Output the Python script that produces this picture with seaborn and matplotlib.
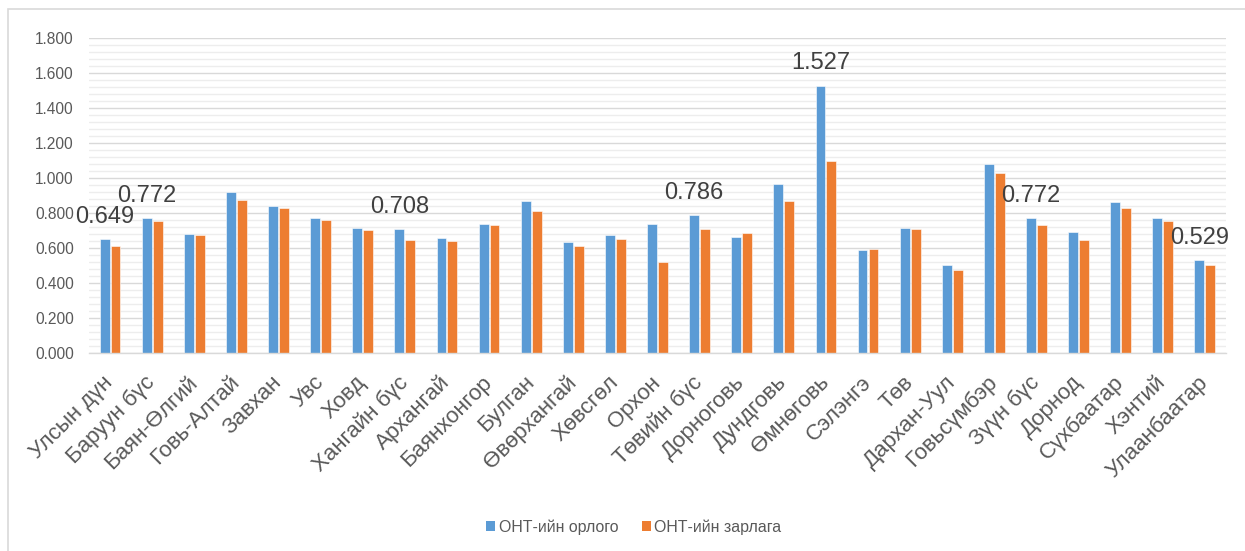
import matplotlib
matplotlib.use("Agg")
import matplotlib.pyplot as plt
from matplotlib.patches import Rectangle
from matplotlib.ticker import MultipleLocator, FuncFormatter
import pandas as pd
import seaborn as sns

# Regions / aimags
categories = [
    "Улсын дүн", "Баруун бүс", "Баян-Өлгий", "Говь-Алтай", "Завхан", "Увс", "Ховд",
    "Хангайн бүс", "Архангай", "Баянхонгор", "Булган", "Өвөрхангай", "Хөвсгөл", "Орхон",
    "Төвийн бүс", "Дорноговь", "Дундговь", "Өмнөговь", "Сэлэнгэ", "Төв", "Дархан-Уул",
    "Говьсүмбэр", "Зүүн бүс", "Дорнод", "Сүхбаатар", "Хэнтий", "Улаанбаатар",
]

series_names = ["ОНТ-ийн орлого", "ОНТ-ийн зарлага"]

income = [
    0.649, 0.772, 0.680, 0.922, 0.842, 0.768, 0.712,
    0.708, 0.659, 0.737, 0.870, 0.632, 0.672, 0.739,
    0.786, 0.665, 0.966, 1.527, 0.587, 0.716, 0.501,
    1.078, 0.772, 0.690, 0.863, 0.773, 0.529,
]
expense = [
    0.610, 0.754, 0.672, 0.874, 0.825, 0.758, 0.705,
    0.648, 0.640, 0.728, 0.810, 0.611, 0.653, 0.518,
    0.710, 0.686, 0.865, 1.097, 0.596, 0.707, 0.474,
    1.025, 0.731, 0.644, 0.829, 0.752, 0.505,
]

# Income values shown as labels above the bars
labelled = ["Улсын дүн", "Баруун бүс", "Хангайн бүс", "Төвийн бүс",
            "Өмнөговь", "Зүүн бүс", "Улаанбаатар"]

colors = ["#5B9BD5", "#ED7D31"]

sns.set_theme(style="white")
plt.rcParams["font.family"] = ["Liberation Sans", "DejaVu Sans"]

df = pd.DataFrame({
    "region": categories * 2,
    "value": income + expense,
    "series": [series_names[0]] * len(categories) + [series_names[1]] * len(categories),
})

fig = plt.figure(figsize=(12.45, 5.51), dpi=100)
ax = fig.add_axes([0.0715, 0.3593, 0.9132, 0.5723])

sns.barplot(data=df, x="region", y="value", hue="series", order=categories,
            hue_order=series_names, palette=colors, width=0.52, gap=0.1,
            edgecolor="white", linewidth=0.4, saturation=1, ax=ax, legend=True)

ax.set_ylim(0, 1.8)
ax.set_xlim(-0.5, len(categories) - 0.5)
ax.yaxis.set_major_locator(MultipleLocator(0.2))
ax.yaxis.set_minor_locator(MultipleLocator(0.04))
ax.yaxis.set_major_formatter(FuncFormatter(lambda v, _: f"{v:.3f}"))
ax.grid(axis="y", which="minor", color="#EDEDED", linewidth=1.0)
ax.grid(axis="y", which="major", color="#D9D9D9", linewidth=1.0)
ax.set_axisbelow(True)
for side in ["left", "right", "top"]:
    ax.spines[side].set_visible(False)
ax.spines["bottom"].set_color("#D9D9D9")
ax.spines["bottom"].set_linewidth(1.0)
ax.set_xlabel("")
ax.set_ylabel("")

ax.tick_params(axis="y", which="both", length=0, pad=11, labelsize=11.2, labelcolor="#595959")
ax.tick_params(axis="x", length=0, pad=19, labelsize=16, labelcolor="#595959")
for lbl in ax.get_xticklabels():
    lbl.set_rotation(45)
    lbl.set_ha("right")
    lbl.set_va("center")
    lbl.set_rotation_mode("anchor")

# Value labels above selected income bars
texts = [f"{v:.3f}" if c in labelled else "" for c, v in zip(categories, income)]
ax.bar_label(ax.containers[0], labels=texts, padding=8, fontsize=17, color="#404040")

# Legend below the chart
ax.get_legend().remove()
handles = [Rectangle((0, 0), 1, 1, facecolor=c, edgecolor="none") for c in colors]
fig.legend(handles, series_names, loc="center", bbox_to_anchor=(0.509, 0.0436),
           ncol=2, frameon=False, fontsize=11.4, labelcolor="#595959",
           handlelength=0.6, handleheight=0.6, handletextpad=0.2, columnspacing=1.5)

# Chart area border
fig.patches.append(Rectangle((7.5 / 1245, -0.05), 1.1, 1.05 - 9 / 551,
                             transform=fig.transFigure, fill=False,
                             edgecolor="#D9D9D9", linewidth=1.2, clip_on=False))

fig.savefig("out.png", dpi=100)
